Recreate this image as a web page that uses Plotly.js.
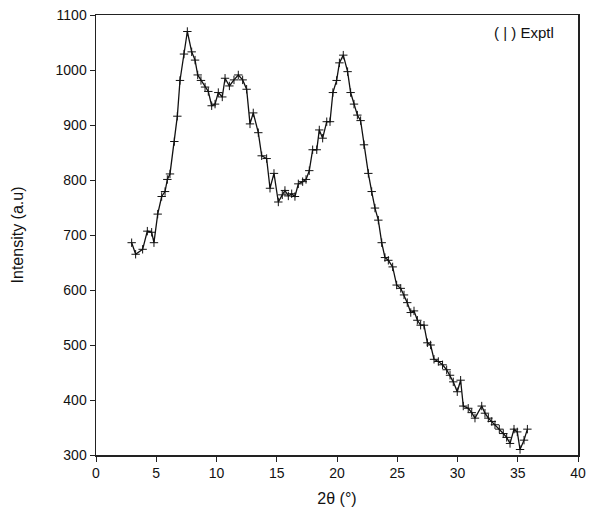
<!DOCTYPE html>
<html>
<head>
<meta charset="utf-8">
<script src="https://cdn.plot.ly/plotly-3.0.1.min.js"></script>
<style>html,body{margin:0;padding:0;background:#fff;}#chart{width:594px;height:521px;}</style>
</head>
<body>
<div id="chart"></div>
<script>
const twoTheta = [2.96,3.29,3.87,4.26,4.62,4.81,5.12,5.45,5.73,5.92,6.14,6.5,6.75,6.97,7.3,7.58,7.94,8.22,8.44,8.71,9.05,9.32,9.6,9.88,10.15,10.48,10.71,11.07,11.45,11.81,12.17,12.5,12.78,13.05,13.47,13.75,14.16,14.44,14.77,15.13,15.46,15.68,15.96,16.24,16.51,16.79,17.15,17.43,17.7,17.98,18.32,18.53,18.81,19.15,19.42,19.66,19.97,20.2,20.52,20.88,21.13,21.41,21.69,21.96,22.24,22.6,22.88,23.15,23.43,23.71,23.98,24.26,24.62,24.95,25.29,25.56,25.83,26.12,26.39,26.67,26.94,27.22,27.5,27.77,28.05,28.41,28.76,29.1,29.38,29.65,29.98,30.26,30.48,30.89,31.18,31.45,32.01,32.28,32.56,32.84,33.11,33.47,33.8,34.08,34.36,34.69,34.96,35.19,35.52,35.8];
const intensity = [686,665,674,707,705,686,738,770,779,801,811,870,916,981,1029,1070,1033,1018,991,981,969,961,935,938,959,951,985,971,982,991,982,965,902,922,886,844,839,785,812,760,773,781,771,775,770,793,797,801,817,855,855,891,876,906,906,959,981,1013,1027,997,959,938,918,908,864,812,779,749,727,686,659,654,642,609,603,591,577,559,562,545,536,536,504,500,474,470,464,455,445,433,415,436,389,385,377,367,389,376,367,361,355,347,339,332,321,347,342,310,327,347];
const xTicks = [0,5,10,15,20,25,30,35,40];
const yTicks = [300,400,500,600,700,800,900,1000,1100];

const font = {family: 'Liberation Sans, Arial, sans-serif', color: '#111', size: 14};
Plotly.newPlot('chart', [{
  x: twoTheta, y: intensity, type: 'scatter', mode: 'lines+markers',
  line: {color: '#111', width: 1.3},
  marker: {symbol: 'cross-thin-open', size: 6, color: '#111', line: {width: 1, color: '#222'}},
  showlegend: false
}], {
  width: 594, height: 521,
  margin: {l: 96, r: 16, t: 15, b: 66},
  paper_bgcolor: '#fff', plot_bgcolor: '#fff',
  font: font,
  xaxis: {range: [0, 40], tickvals: xTicks, ticks: 'outside', ticklen: 5, tickcolor: '#222',
    showline: true, linecolor: '#222', linewidth: 1.5, mirror: true, showgrid: false, zeroline: false,
    tickfont: {size: 14, family: font.family, color: '#111'},
    title: {text: '2\u03b8 (\u00b0)', font: {size: 16, family: font.family, color: '#111'}, standoff: 12}},
  yaxis: {range: [300, 1100], tickvals: yTicks, ticks: 'outside', ticklen: 5, tickcolor: '#222',
    showline: true, linecolor: '#222', linewidth: 1.5, mirror: true, showgrid: false, zeroline: false,
    tickfont: {size: 14, family: font.family, color: '#111'},
    title: {text: 'Intensity (a.u)', font: {size: 16, family: font.family, color: '#111'}, standoff: 28}},
  annotations: [{xref: 'paper', yref: 'paper', x: 0.955, y: 0.96, xanchor: 'right', yanchor: 'middle',
    text: '(\u00a0|\u00a0) Exptl', showarrow: false, font: {size: 15, family: font.family, color: '#111'}}]
}, {displayModeBar: false, staticPlot: true});
</script>
</body>
</html>
